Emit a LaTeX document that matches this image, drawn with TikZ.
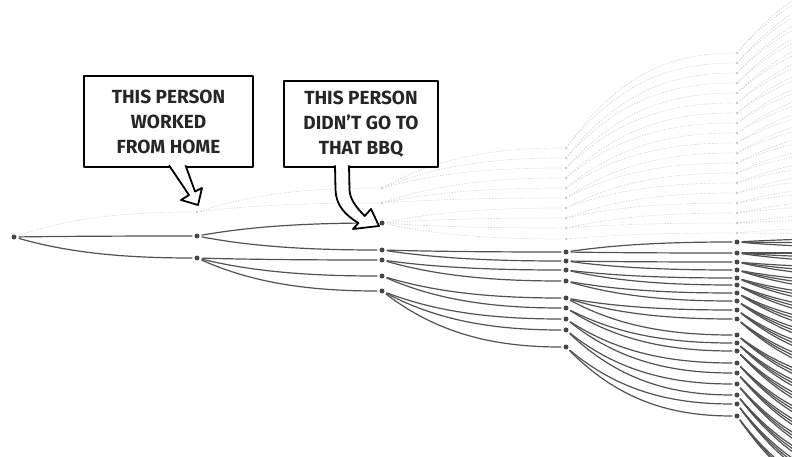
\documentclass[tikz,border=0pt]{standalone}
\usepackage{fontspec}
\setmainfont{Fira Sans}
\usetikzlibrary{calc}
\tikzset{
  dot/.style={circle, fill=black!72, inner sep=0pt, minimum size=5pt, outer sep=2.6pt},
  fdot/.style={circle, fill=black!20, inner sep=0pt, minimum size=3pt, outer sep=2pt},
  link/.style={draw=black!68, line width=1.2pt, line cap=round},
  flink/.style={draw=black!17, line width=0.7pt, dash pattern=on 1.3pt off 1.5pt},
  callout/.style={draw=black, line width=1.8pt, fill=white, line join=round},
  lbl/.style={font=\bfseries\fontsize{19}{25}\selectfont, align=center, text=black!85},
}
\newcommand\lnk[3][link]{\path[#1] let \p1=(#2.center), \p2=(#3.center) in (#2) .. controls ({\x1+0.3*(\x2-\x1)},{\y1+0.75*(\y2-\y1)}) and ({\x1+0.6*(\x2-\x1)},\y2) .. (#3);}
\begin{document}
\begin{tikzpicture}[x=1pt,y=-1pt]
\useasboundingbox (0,0) rectangle (792,457);
\clip (0,0) rectangle (792,457);

% ---------- nodes ----------
\node[dot] (r) at (14,237) {};
\node[dot] (a) at (197,236) {};
\node[dot] (b) at (197,258) {};
\node[fdot] (f1) at (197,212) {};

\foreach \i/\yy in {1/223,2/250,3/260,4/276,5/291}
  {\node[dot] (d2-\i) at (382,\yy) {};}
\foreach \i/\yy in {1/252,2/261,3/270,4/281,5/298,6/308,7/319,8/330,9/347}
  {\node[dot] (d3-\i) at (566,\yy) {};}
\foreach \i/\yy in {1/242,2/253,3/262,4/270,5/278,6/285,7/293,8/301,9/310,10/319,11/335,12/343,13/351,14/363,15/373,16/384,17/395,18/404,19/416}
  {\node[dot] (d4-\i) at (737,\yy) {};}
\foreach \m in {1,...,57}
  {\coordinate (d5-\m) at (915,{233+5.0*\m});}

\foreach \i/\yy in {1/188,2/203}
  {\node[fdot] (f2-\i) at (382,\yy) {};}
\foreach \i/\yy in {1/148,2/158,3/168,4/178,5/188,6/198,7/208,8/218,9/228,10/239}
  {\node[fdot] (f3-\i) at (566,\yy) {};}
\foreach \i in {1,...,19}
  {\node[fdot] (f4-\i) at (737,{43+10*\i}) {};}
\foreach \m in {1,...,38}
  {\coordinate (f5-\m) at (915,{-40+7.2*\m});}

% ---------- faint (what did not happen) ----------
\lnk[flink]{r}{f1}
\lnk[flink]{f1}{f2-1}
\lnk[flink]{f1}{f2-2}
\foreach \u/\c in {1/1,1/2,1/3,2/4,2/5,2/6}
  {\lnk[flink]{f2-\u}{f3-\c}}
\foreach \c in {7,8,9,10}
  {\lnk[flink]{d2-1}{f3-\c}}
\foreach \k [evaluate=\k as \ka using int(2*\k-1), evaluate=\k as \kb using int(2*\k)] in {1,...,9}
  {\lnk[flink]{f3-\k}{f4-\ka}\lnk[flink]{f3-\k}{f4-\kb}}
\lnk[flink]{f3-10}{f4-19}
\foreach \k [evaluate=\k as \ka using int(2*\k-1), evaluate=\k as \kb using int(2*\k)] in {1,...,19}
  {\lnk[flink]{f4-\k}{f5-\ka}\lnk[flink]{f4-\k}{f5-\kb}}

% ---------- dark tree ----------
\lnk{r}{a}
\lnk{r}{b}
\lnk{a}{d2-1}
\lnk{a}{d2-2}
\lnk{b}{d2-3}
\lnk{b}{d2-4}
\lnk{b}{d2-5}
\foreach \u/\c in {2/1,2/2,3/3,3/4,4/5,4/6,5/7,5/8,5/9}
  {\lnk{d2-\u}{d3-\c}}
\foreach \u/\c in {1/1,1/2,2/3,2/4,3/5,3/6,4/7,4/8,5/9,5/10,5/11,6/12,6/13,7/14,7/15,8/16,8/17,9/18,9/19}
  {\lnk{d3-\u}{d4-\c}}
\foreach \k [evaluate=\k as \ka using int(3*\k-2), evaluate=\k as \kb using int(3*\k-1), evaluate=\k as \kc using int(3*\k)] in {1,...,19}
  {\lnk{d4-\k}{d5-\ka}\lnk{d4-\k}{d5-\kb}\lnk{d4-\k}{d5-\kc}}

% ---------- callout 1 ----------
\node[callout, lbl, minimum width=169pt, minimum height=91pt, inner sep=0pt] (c1) at (168.5,121.5) {THIS PERSON\\WORKED\\FROM HOME};
\fill[white] (169,165.3) -- (189,195) -- (181,200) -- (198,205) -- (202,188) -- (195,191.5) -- (185.5,165.3) -- cycle;
\draw[callout, fill=none] (169,165.3) -- (189,195) -- (181,200) -- (198,205) -- (202,188) -- (195,191.5) -- (185.5,165.3);

% ---------- callout 2 ----------
\node[callout, lbl, minimum width=154pt, minimum height=86pt, inner sep=0pt] (c2) at (361,124) {THIS PERSON\\DIDN’T GO TO\\THAT BBQ};
\fill[white] (335,165.3) -- (335.5,190) .. controls (336,205) and (345,215) .. (358.4,223) -- (353,229) -- (379,226) -- (371,209) -- (364.7,216) .. controls (357,208) and (350,200) .. (349.5,190) -- (349,165.3) -- cycle;
\draw[callout, fill=none] (335,165.3) -- (335.5,190) .. controls (336,205) and (345,215) .. (358.4,223) -- (353,229) -- (379,226) -- (371,209) -- (364.7,216) .. controls (357,208) and (350,200) .. (349.5,190) -- (349,165.3);
\end{tikzpicture}
\end{document}
